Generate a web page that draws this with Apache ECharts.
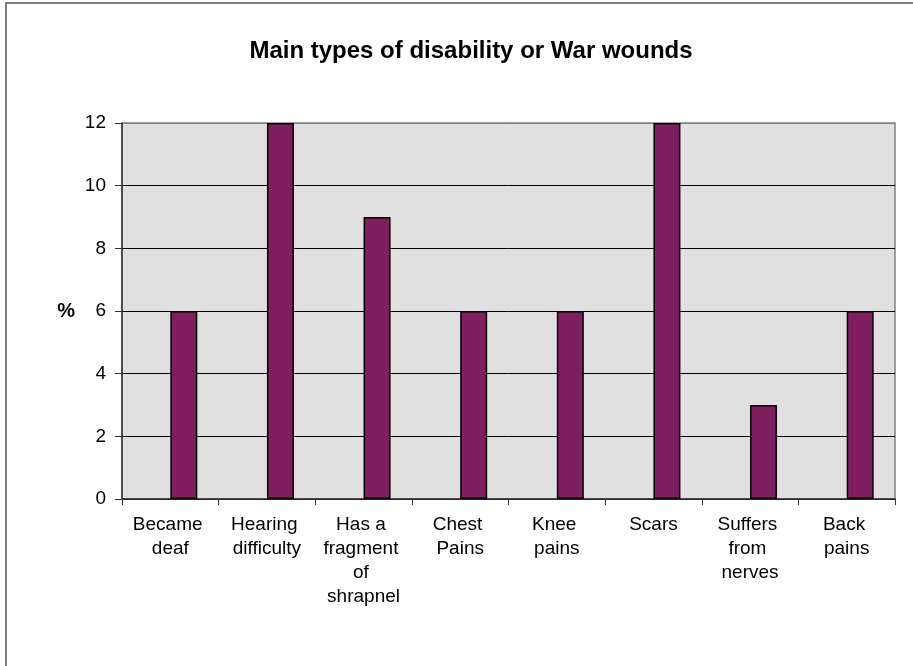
<!DOCTYPE html>
<html>
<head>
<meta charset="utf-8">
<script src="https://cdn.jsdelivr.net/npm/echarts@6/dist/echarts.min.js"></script>
<style>
html,body{margin:0;padding:0;background:#fff;}
#chart{width:913px;height:666px;}
</style>
</head>
<body>
<div id="chart"></div>
<script>
const titleText = 'Main types of disability or War wounds';
const categories = ['Became deaf', 'Hearing difficulty', 'Has a fragment of shrapnel', 'Chest Pains', 'Knee pains', 'Scars', 'Suffers from nerves', 'Back pains'];
const values = [6, 12, 9, 6, 6, 12, 3, 6];
const emptySeries = ['-', '-', '-', '-', '-', '-', '-', '-'];
const yTicks = { min: 0, max: 12, interval: 2 };
const yName = '%';

const chart = echarts.init(document.getElementById('chart'), null, { renderer: 'canvas' });
const font = 'Liberation Sans, Arial, sans-serif';
chart.setOption({
  animation: false,
  backgroundColor: '#ffffff',
  title: {
    text: titleText,
    left: 466,
    top: 34,
    textAlign: 'center',
    textStyle: { fontFamily: font, fontSize: 24, fontWeight: 'bold', color: '#000' }
  },
  graphic: [{
    type: 'rect',
    shape: { x: 6, y: 3, width: 1000, height: 1000 },
    style: { fill: 'none', stroke: '#555', lineWidth: 1.5 },
    silent: true
  }],
  grid: {
    left: 122, right: 18, top: 123, bottom: 167,
    show: true, backgroundColor: '#e0e0e0', borderColor: '#808080', borderWidth: 1.5
  },
  xAxis: {
    type: 'category',
    data: categories,
    axisLine: { lineStyle: { color: '#333', width: 1.5 } },
    axisTick: { show: true, length: 6, lineStyle: { color: '#333', width: 1 } },
    axisLabel: {
      fontFamily: font, fontSize: 19, color: '#000', margin: 14, lineHeight: 24,
      interval: 0, width: 86, overflow: 'break', align: 'center'
    }
  },
  yAxis: {
    type: 'value',
    min: yTicks.min, max: yTicks.max, interval: yTicks.interval,
    name: yName,
    nameLocation: 'middle',
    nameRotate: 0,
    nameGap: 47,
    nameTextStyle: { fontFamily: font, fontSize: 20, fontWeight: 'bold', color: '#000' },
    axisLine: { show: true, lineStyle: { color: '#333', width: 1.5 } },
    axisTick: { show: true, length: 7, lineStyle: { color: '#333', width: 1 } },
    axisLabel: { fontFamily: font, fontSize: 19, color: '#000', margin: 16 },
    splitLine: { show: true, lineStyle: { color: ['#000', '#000', '#000', '#000', '#000', '#000', '#808080'], width: 1 } }
  },
  series: [
    {
      type: 'bar', name: 'blank', data: emptySeries, barWidth: 27, barGap: '0%'
    },
    {
      type: 'bar', name: 'Main types', data: values, barWidth: 27, barGap: '0%',
      itemStyle: { color: '#7f1f5f', borderColor: '#000', borderWidth: 1.5 }
    }
  ]
});
</script>
</body>
</html>
